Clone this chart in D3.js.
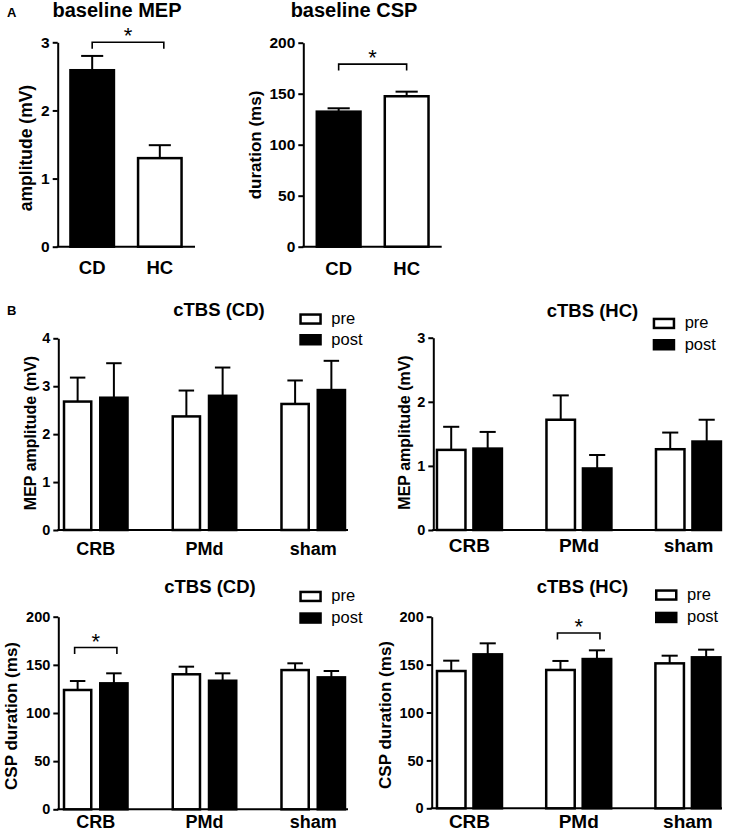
<!DOCTYPE html>
<html><head><meta charset="utf-8">
<script src="https://cdn.jsdelivr.net/npm/d3@7"></script>
<style>
body{margin:0;background:#fff;}
svg{display:block;}
text{font-family:"Liberation Sans",Arial,Helvetica,sans-serif;fill:#000;}
</style>
</head><body>
<svg id="chart" width="729" height="833"></svg>
<script>
// ---------------- DATA ----------------
const baselineGroups = ["CD", "HC"];
const baselineMEP = [2.59, 1.30];
const baselineMEPErr = [0.21, 0.19];
const baselineCSP = [132.4, 147.5];
const baselineCSPErr = [3.3, 4.5];

const sites = ["CRB", "PMd", "sham"];
const phases = ["pre", "post"];

const mepCDPre = [2.68, 2.37, 2.63];
const mepCDPreErr = [0.50, 0.54, 0.49];
const mepCDPost = [2.76, 2.80, 2.92];
const mepCDPostErr = [0.72, 0.59, 0.61];

const mepHCPre = [1.25, 1.72, 1.26];
const mepHCPreErr = [0.36, 0.38, 0.26];
const mepHCPost = [1.27, 0.96, 1.38];
const mepHCPostErr = [0.26, 0.21, 0.34];

const cspCDPre = [123.9, 140.2, 144.6];
const cspCDPreErr = [9.3, 7.9, 7.0];
const cspCDPost = [130.8, 133.5, 137.0];
const cspCDPostErr = [10.4, 7.7, 6.6];

const cspHCPre = [143.3, 144.4, 151.3];
const cspHCPreErr = [10.8, 9.4, 8.0];
const cspHCPost = [160.7, 155.8, 157.6];
const cspHCPostErr = [11.5, 9.1, 8.0];

const ticksMEPBaseline = [0, 1, 2, 3];
const ticksCSP = [0, 50, 100, 150, 200];
const ticksMEPCD = [0, 1, 2, 3, 4];
const ticksMEPHC = [0, 1, 2, 3];

// significance brackets
const sigBaselineMEP = ["CD", "HC", 3.0];
const sigBaselineCSP = ["CD", "HC", 179];
const sigCSPCD = ["CRB", 168];
const sigCSPHC = ["PMd", 183];

// ---------------- DRAW ----------------
const svg = d3.select("#chart");
svg.append("rect").attr("width", 729).attr("height", 833).attr("fill", "#fff");

const FILL = {pre: "#fff", post: "#000", CD: "#000", HC: "#fff"};

function yAxis(g, y, xAxis, ticks, fs) {
  const ax = d3.axisLeft(y).tickValues(ticks).tickSize(5).tickSizeOuter(0).tickPadding(3).tickFormat(d3.format("d"));
  const a = g.append("g").attr("transform", `translate(${xAxis},0)`).call(ax);
  a.select(".domain").attr("stroke", "#000").attr("stroke-width", 2);
  a.selectAll(".tick line").attr("stroke", "#000").attr("stroke-width", 2);
  a.selectAll(".tick text").attr("font-size", fs).attr("font-weight", "bold")
    .attr("font-family", '"Liberation Sans",Arial,sans-serif').attr("fill", "#000");
}

function vlabel(text, cx, cy, fs) {
  svg.append("text").attr("transform", `translate(${cx},${cy}) rotate(-90)`)
    .attr("text-anchor", "middle").attr("dy", "0.35em")
    .attr("font-size", fs).attr("font-weight", "bold").text(text);
}

function ttext(text, x, y, fs, weight, anchor) {
  svg.append("text").attr("x", x).attr("y", y).attr("font-size", fs)
    .attr("font-weight", weight || "bold").attr("text-anchor", anchor || "middle").text(text);
}

function bar(g, x, w, yv, y0, fill) {
  const sw = 2.5;
  g.append("rect").attr("x", x + sw / 2).attr("y", yv).attr("width", w - sw).attr("height", Math.max(0, y0 - yv))
    .attr("fill", fill).attr("stroke", "#000").attr("stroke-width", sw);
}

function errBar(g, cx, yv, ye, capW) {
  g.append("line").attr("x1", cx).attr("x2", cx).attr("y1", yv).attr("y2", ye).attr("stroke", "#000").attr("stroke-width", 2);
  g.append("line").attr("x1", cx - capW / 2).attr("x2", cx + capW / 2).attr("y1", ye).attr("y2", ye).attr("stroke", "#000").attr("stroke-width", 2);
}

function bracket(xa, xb, yb) {
  svg.append("path").attr("d", `M${xa},${yb + 6.5}V${yb}H${xb}V${yb + 6.5}`)
    .attr("fill", "none").attr("stroke", "#000").attr("stroke-width", 1.6);
  svg.append("text").attr("x", (xa + xb) / 2).attr("y", yb + 1).attr("text-anchor", "middle")
    .attr("font-size", 22).text("*");
}

function simplePanel(c) {
  const g = svg.append("g");
  const y = d3.scaleLinear().domain([0, c.yMax]).range([c.y0, c.yTop]);
  const x = d3.scaleBand().domain(baselineGroups).range([c.xAxis, c.r1]).paddingInner(0.32).paddingOuter(c.po);
  g.append("line").attr("x1", c.xAxis - 1).attr("x2", c.xEnd).attr("y1", c.y0).attr("y2", c.y0).attr("stroke", "#000").attr("stroke-width", 2);
  baselineGroups.forEach((k, i) => {
    const bx = x(k), bw = x.bandwidth();
    bar(g, bx, bw, y(c.values[i]), c.y0, FILL[k]);
    errBar(g, bx + bw / 2, y(c.values[i]), y(c.values[i] + c.errs[i]), bw * 0.48);
    ttext(k, bx + bw / 2, c.xlabY, 18.5);
  });
  yAxis(g, y, c.xAxis, c.ticks, 15.5);
  const s = c.sig;
  bracket(x(s[0]) + x.bandwidth() / 2, x(s[1]) + x.bandwidth() / 2 + c.sigShift, y(s[2]));
  return {x, y};
}

function groupedPanel(c) {
  const g = svg.append("g");
  const y = d3.scaleLinear().domain([0, c.yMax]).range([c.y0, c.yTop]);
  const x = d3.scaleBand().domain(sites).range([c.xAxis, c.r1]).paddingInner(c.pi).paddingOuter(c.po);
  const xs = d3.scaleBand().domain(phases).range([0, x.bandwidth()]).paddingInner(c.spi);
  g.append("line").attr("x1", c.xAxis - 1).attr("x2", c.xEnd).attr("y1", c.y0).attr("y2", c.y0).attr("stroke", "#000").attr("stroke-width", 2);
  sites.forEach((s, i) => {
    phases.forEach((p, j) => {
      const v = c.values[j][i], e = c.errs[j][i];
      const bx = x(s) + xs(p), bw = xs.bandwidth();
      bar(g, bx, bw, y(v), c.y0, FILL[p]);
      errBar(g, bx + bw / 2, y(v), y(v + e), bw * 0.52);
    });
    ttext(s, x(s) + x.bandwidth() / 2, c.xlabY, c.xlabFs);
  });
  yAxis(g, y, c.xAxis, c.ticks, 14.5);
  phases.forEach((p, j) => {
    const ly = c.legY[j];
    svg.append("rect").attr("x", c.legX + 1.25).attr("y", ly + 1.25).attr("width", 20).attr("height", 9)
      .attr("fill", FILL[p]).attr("stroke", "#000").attr("stroke-width", 2.5);
    ttext(p, c.legX + 32, ly + 10.5, 16.5, "normal", "start");
  });
  if (c.sig) {
    const s = c.sig;
    bracket(x(s[0]) + xs("pre") + xs.bandwidth() / 2 - 3, x(s[0]) + xs("post") + xs.bandwidth() / 2 + 3, y(s[1]));
  }
  return {x, y};
}

// Panel letters
ttext("A", 7, 17, 13, "bold", "start");
ttext("B", 7, 315, 13, "bold", "start");

// A1 baseline MEP
simplePanel({xAxis: 57.7, r1: 194.3, po: 0.17, xEnd: 195, y0: 246.7, yTop: 42.3, yMax: 3,
  values: baselineMEP, errs: baselineMEPErr, ticks: ticksMEPBaseline, xlabY: 274, sig: sigBaselineMEP, sigShift: 4});
ttext("baseline MEP", 117, 17, 20);
vlabel("amplitude (mV)", 26, 148, 17.5);

// A2 baseline CSP
simplePanel({xAxis: 303.3, r1: 442, po: 0.18, xEnd: 441.7, y0: 246.7, yTop: 42.7, yMax: 200,
  values: baselineCSP, errs: baselineCSPErr, ticks: ticksCSP, xlabY: 275, sig: sigBaselineCSP, sigShift: 0});
ttext("baseline CSP", 354, 17, 20);
vlabel("duration (ms)", 255, 145, 17);

// B1 MEP CD
groupedPanel({xAxis: 58.3, r1: 350.7, pi: 0.393, po: 0.041, spi: 0.18, xEnd: 348, y0: 530, yTop: 338.3, yMax: 4,
  values: [mepCDPre, mepCDPost], errs: [mepCDPreErr, mepCDPostErr], ticks: ticksMEPCD,
  xlabY: 555, xlabFs: 18, legX: 299.3, legY: [313.3, 334]});
ttext("cTBS (CD)", 219, 316, 18.5);
vlabel("MEP amplitude (mV)", 30, 433, 16);

// B2 MEP HC
groupedPanel({xAxis: 433.3, r1: 724.6, pi: 0.384, po: 0.022, spi: 0.15, xEnd: 722, y0: 530, yTop: 337.7, yMax: 3,
  values: [mepHCPre, mepHCPost], errs: [mepHCPreErr, mepHCPostErr], ticks: ticksMEPHC,
  xlabY: 552, xlabFs: 19, legX: 652.7, legY: [317.7, 339]});
ttext("cTBS (HC)", 592.5, 317, 18.5);
vlabel("MEP amplitude (mV)", 404, 432.5, 16);

// B3 CSP CD
groupedPanel({xAxis: 58.3, r1: 350.7, pi: 0.393, po: 0.041, spi: 0.18, xEnd: 348, y0: 809.3, yTop: 616.7, yMax: 200,
  values: [cspCDPre, cspCDPost], errs: [cspCDPreErr, cspCDPostErr], ticks: ticksCSP,
  xlabY: 828, xlabFs: 18, legX: 299.3, legY: [590.7, 612.3], sig: sigCSPCD});
ttext("cTBS (CD)", 210, 593, 18.5);
vlabel("CSP duration (ms)", 11.5, 716, 17);

// B4 CSP HC
groupedPanel({xAxis: 431.7, r1: 725.7, pi: 0.382, po: 0.037, spi: 0.15, xEnd: 722, y0: 808.3, yTop: 616.7, yMax: 200,
  values: [cspHCPre, cspHCPost], errs: [cspHCPreErr, cspHCPostErr], ticks: ticksCSP,
  xlabY: 828, xlabFs: 19, legX: 655, legY: [589.3, 611.7], sig: sigCSPHC});
ttext("cTBS (HC)", 582.5, 593, 18.5);
vlabel("CSP duration (ms)", 385, 715, 17);
</script>
</body></html>
